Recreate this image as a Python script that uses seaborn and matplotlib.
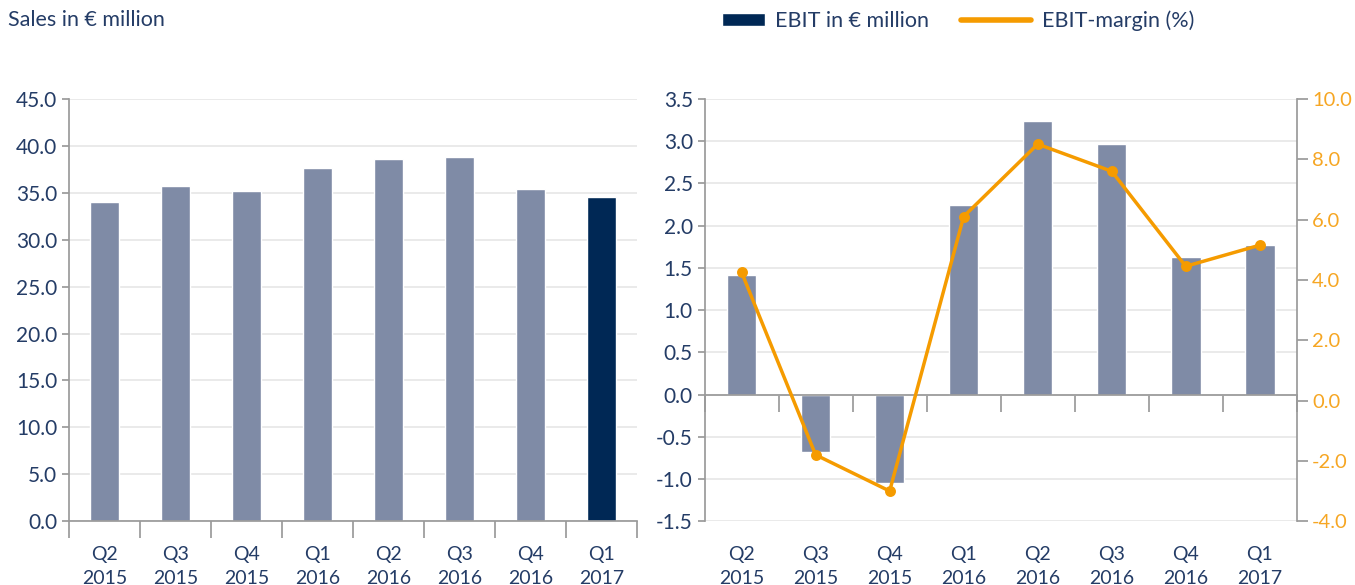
import numpy as np
import matplotlib
matplotlib.use('Agg')
import matplotlib.pyplot as plt
import seaborn as sns
from matplotlib.patches import Patch, Rectangle
from matplotlib.lines import Line2D
from matplotlib.legend_handler import HandlerPatch

# data
quarters = ['Q2\n2015', 'Q3\n2015', 'Q4\n2015', 'Q1\n2016', 'Q2\n2016', 'Q3\n2016', 'Q4\n2016', 'Q1\n2017']
sales = [34.0, 35.7, 35.2, 37.6, 38.6, 38.8, 35.4, 34.5]
ebit = [1.42, -0.68, -1.05, 2.24, 3.24, 2.97, 1.63, 1.77]
margin = [4.25, -1.8, -3.0, 6.1, 8.5, 7.6, 4.45, 5.15]

navy = '#002855'
bar_grey = '#7f8ba6'
orange = '#f59b00'
orange_txt = '#f6a623'
txt = '#243c66'
spine = '#9a9a9a'
grid = '#e6e6e6'

sns.set_theme(style='white')
plt.rcParams['font.family'] = ['Lato', 'DejaVu Sans']
plt.rcParams['text.color'] = txt

fig = plt.figure(figsize=(13.55, 5.85), dpi=100)
ax1 = fig.add_axes([0.051, 0.109, 0.419, 0.722])
ax2 = fig.add_axes([0.520, 0.109, 0.437, 0.722])


def style_cat_axis(ax, zero):
    ax.set_xlim(-0.5, len(quarters) - 0.5)
    ax.spines['bottom'].set_position(('data', zero))
    ax.spines['bottom'].set_color(spine)
    ax.spines['left'].set_color(spine)
    ax.spines['top'].set_visible(False)
    ax.spines['right'].set_visible(False)
    ax.set_xticks(np.arange(-0.5, len(quarters), 1))
    ax.set_xticklabels([])
    ax.tick_params(axis='x', length=12, color=spine, direction='out', bottom=True)
    ax.tick_params(axis='y', length=5, color=spine, left=True, labelsize=15, labelcolor=txt)
    ax.set_xlabel('')
    ax.set_ylabel('')
    ax.yaxis.grid(True, color=grid, linewidth=1.2)
    ax.set_axisbelow(True)
    sec = ax.secondary_xaxis(0)
    sec.set_xticks(range(len(quarters)), quarters)
    sec.tick_params(length=0, pad=18, labelsize=14, labelcolor=txt)
    for t in sec.get_xticklabels():
        t.set_linespacing(1.45)
    sec.spines['bottom'].set_visible(False)


def short_patch(legend, orig_handle, xdescent, ydescent, width, height, fontsize):
    # legend box narrower than the line handle, pushed against the label
    w = width * 0.62
    return Rectangle((-xdescent + width - w, -ydescent), w, height)


# left: sales
colors = [bar_grey] * (len(quarters) - 1) + [navy]
sns.barplot(x=quarters, y=sales, hue=quarters, palette=colors, legend=False,
            width=0.4, saturation=1, ax=ax1)
ax1.set_ylim(0, 45)
yt = np.arange(0, 46, 5)
ax1.set_yticks(yt, ['%.1f' % v for v in yt])
style_cat_axis(ax1, 0)

# right: EBIT + margin
sns.barplot(x=quarters, y=ebit, color=bar_grey, width=0.4, saturation=1, ax=ax2)
ax2r = ax2.twinx()
sns.pointplot(x=quarters, y=margin, color=orange, markersize=6, linewidth=2.5, ax=ax2r)
ax2.set_ylim(-1.5, 3.5)
yt = np.arange(-1.5, 3.51, 0.5)
ax2.set_yticks(yt, ['%.1f' % v for v in yt])
style_cat_axis(ax2, 0)

ax2r.set_ylim(-4, 10)
yt = np.arange(-4, 10.1, 2)
ax2r.set_yticks(yt, ['%.1f' % v for v in yt])
ax2r.set_ylabel('')
ax2r.grid(False)
for s in ['left', 'top', 'bottom']:
    ax2r.spines[s].set_visible(False)
ax2r.spines['right'].set_color(spine)
ax2r.tick_params(axis='y', length=8, color=spine, right=True, labelsize=14.5,
                 labelcolor=orange_txt, pad=3)

fig.text(0.006, 0.965, 'Sales in € million', fontsize=15.5, color=txt, va='center')
handles = [Patch(facecolor=navy), Line2D([0], [0], color=orange, lw=4, solid_capstyle='round')]
leg = fig.legend(handles, ['EBIT in € million', 'EBIT-margin (%)'], loc='center left',
                 bbox_to_anchor=(0.513, 0.965), ncol=2, frameon=False, fontsize=15.5,
                 handlelength=3.25, handleheight=0.55, handletextpad=0.47, columnspacing=1.5,
                 labelcolor=txt, borderpad=0, borderaxespad=0,
                 handler_map={Patch: HandlerPatch(patch_func=short_patch)})

fig.savefig('out.png', dpi=100)
